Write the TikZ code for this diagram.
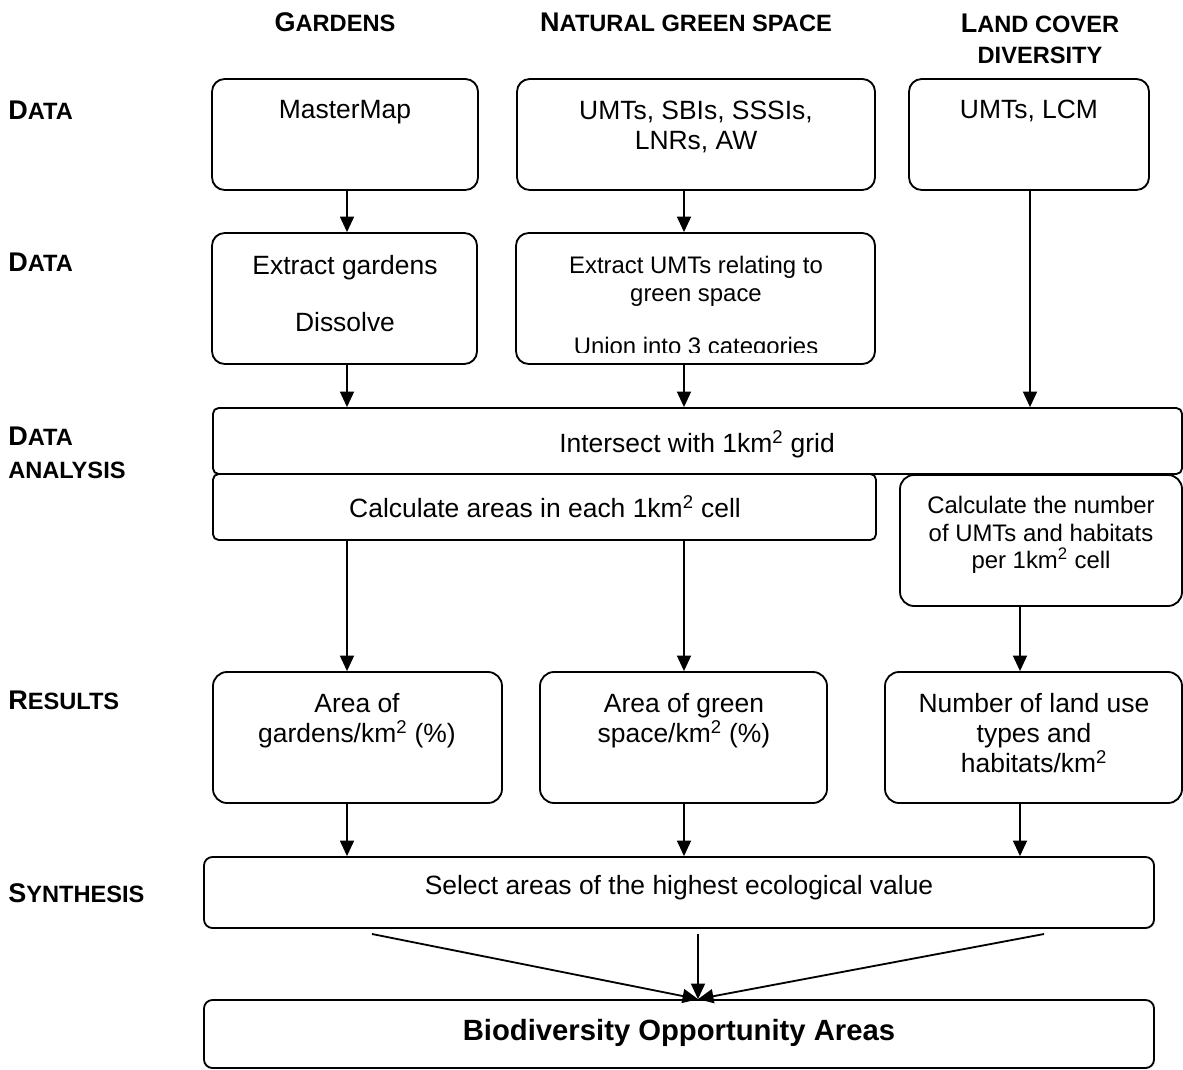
\documentclass[tikz,border=0pt]{standalone}
\usepackage{fontspec}
\setmainfont{Liberation Sans}
\usetikzlibrary{arrows.meta, fit}
% fake small caps: big first letter, smaller rest
\newcommand{\capsc}[2]{{\fontsize{19.2}{22}\selectfont #1}#2}
\newcommand{\kmsq}{km\textsuperscript{2}}

\begin{document}
\begin{tikzpicture}[
  x=0.025cm, y=-0.025cm,
  procbox/.style={draw, line width=1.3pt, rounded corners=9pt, inner sep=0pt},
  boxtext/.style={anchor=north, inner sep=0pt, align=center, font=\fontsize{18.8}{21.3}\selectfont},
  smalltext/.style={boxtext, font=\fontsize{17}{19.6}\selectfont},
  rowlabel/.style={anchor=west, inner sep=0pt, align=left, font=\bfseries\fontsize{16.8}{23.5}\selectfont},
  colhead/.style={inner sep=0pt, align=center, font=\bfseries\fontsize{16.8}{22}\selectfont},
  arrow/.style={-{Triangle[length=11pt, width=10pt]}, line width=1pt}
]
  \useasboundingbox (0,0) rectangle (1183,1070);

  % column and row headings
  \node[colhead] (hgard) at (335,22) {\capsc{G}{ARDENS}};
  \node[colhead] (hnat) at (686,22) {\capsc{N}{ATURAL GREEN SPACE}};
  \node[colhead, anchor=north] (hland) at (1040,14) {\capsc{L}{AND COVER}\\DIVERSITY};

  \node[rowlabel] (rdata) at (8,110) {\capsc{D}{ATA}};
  \node[rowlabel] (rdata2) at (8,262) {\capsc{D}{ATA}};
  \node[rowlabel, anchor=north west] (ranal) at (8,427) {\capsc{D}{ATA}\\ANALYSIS};
  \node[rowlabel] (rres) at (8,700) {\capsc{R}{ESULTS}};
  \node[rowlabel] (rsyn) at (8,893) {\capsc{S}{YNTHESIS}};

  % boxes
  \node[procbox, fit={(212,79) (478,190)}] (mastermap) {};
  \node[procbox, fit={(517,79) (875,190)}] (umts) {};
  \node[procbox, fit={(909,79) (1149,190)}] (lcm) {};
  \node[procbox, fit={(212,233) (477,364)}] (extractg) {};
  \node[procbox, fit={(516,233) (875,364)}] (extractu) {};
  \node[procbox, rounded corners=4pt, fit={(213,408) (1182,474)}] (intersect) {};
  \node[procbox, rounded corners=4pt, fit={(213,474) (876,540)}] (calcarea) {};
  \node[procbox, rounded corners=10pt, fit={(900,475) (1182,606)}] (calcnum) {};
  \node[procbox, rounded corners=10pt, fit={(213,672) (502,803)}] (areag) {};
  \node[procbox, rounded corners=10pt, fit={(540,672) (827,803)}] (areags) {};
  \node[procbox, rounded corners=10pt, fit={(885,672) (1182,803)}] (numland) {};
  \node[procbox, rounded corners=6pt, fit={(204,857) (1154,928)}] (select) {};
  \node[procbox, rounded corners=6pt, fit={(204,1000) (1154,1068)}] (boa) {};

  % texts
  \node[boxtext] (mastermap-t) at (345,100) {MasterMap};
  \node[boxtext] (umts-t) at (696,101) {UMTs, SBIs, SSSIs,\\LNRs, AW};
  \node[boxtext] (lcm-t) at (1029,100) {UMTs, LCM};
  \node[boxtext] (extractg-t) at (345,255) {Extract gardens\\[19pt]Dissolve};
  \begin{scope}
    \clip (516,233) rectangle (875,352);
    \node[smalltext] (extractu-t) at (696,256) {Extract UMTs relating to\\green space\\[18pt]Union into 3 categories};
  \end{scope}
  \node[boxtext] (intersect-t) at (697,430) {Intersect with 1\kmsq{} grid};
  \node[boxtext] (calcarea-t) at (545,495) {Calculate areas in each 1\kmsq{} cell};
  \node[smalltext] (calcnum-t) at (1041,496) {Calculate the number\\of UMTs and habitats\\per 1\kmsq{} cell};
  \node[boxtext] (areag-t) at (357,693) {Area of\\gardens/\kmsq{} (\%)};
  \node[boxtext] (areags-t) at (684,693) {Area of green\\space/\kmsq{} (\%)};
  \node[boxtext] (numland-t) at (1034,693) {Number of land use\\types and\\habitats/\kmsq};
  \node[boxtext] (select-t) at (679,875) {Select areas of the highest ecological value};
  \node[boxtext, font=\fontsize{20.8}{24}\selectfont\bfseries] (boa-t) at (679,1019) {Biodiversity Opportunity Areas};

  % arrow columns
  \coordinate (colA) at (347,0);
  \coordinate (colB) at (684,0);
  \coordinate (colC) at (1020,0);
  \coordinate (colL) at (1030,0);
  \coordinate (hub) at (698,0);

  \draw[arrow] (mastermap.south -| colA) -- (extractg.north -| colA);
  \draw[arrow] (umts.south -| colB) -- (extractu.north -| colB);
  \draw[arrow] (lcm.south -| colL) -- (intersect.north -| colL);
  \draw[arrow] (extractg.south -| colA) -- (intersect.north -| colA);
  \draw[arrow] (extractu.south -| colB) -- (intersect.north -| colB);

  \draw[arrow] (calcarea.south -| colA) -- (areag.north -| colA);
  \draw[arrow] (calcarea.south -| colB) -- (areags.north -| colB);
  \draw[arrow] (calcnum.south -| colC) -- (numland.north -| colC);

  \draw[arrow] (areag.south -| colA) -- (select.north -| colA);
  \draw[arrow] (areags.south -| colB) -- (select.north -| colB);
  \draw[arrow] (numland.south -| colC) -- (select.north -| colC);

  % converging arrows
  \coordinate (fromL) at (372,934);
  \coordinate (fromM) at (698,934);
  \coordinate (fromR) at (1044,934);
  \draw[arrow, line width=1.3pt] (fromL) -- (boa.north -| hub);
  \draw[arrow] (fromM) -- (boa.north -| hub);
  \draw[arrow, line width=1.3pt] (fromR) -- (boa.north -| hub);
\end{tikzpicture}
\end{document}
